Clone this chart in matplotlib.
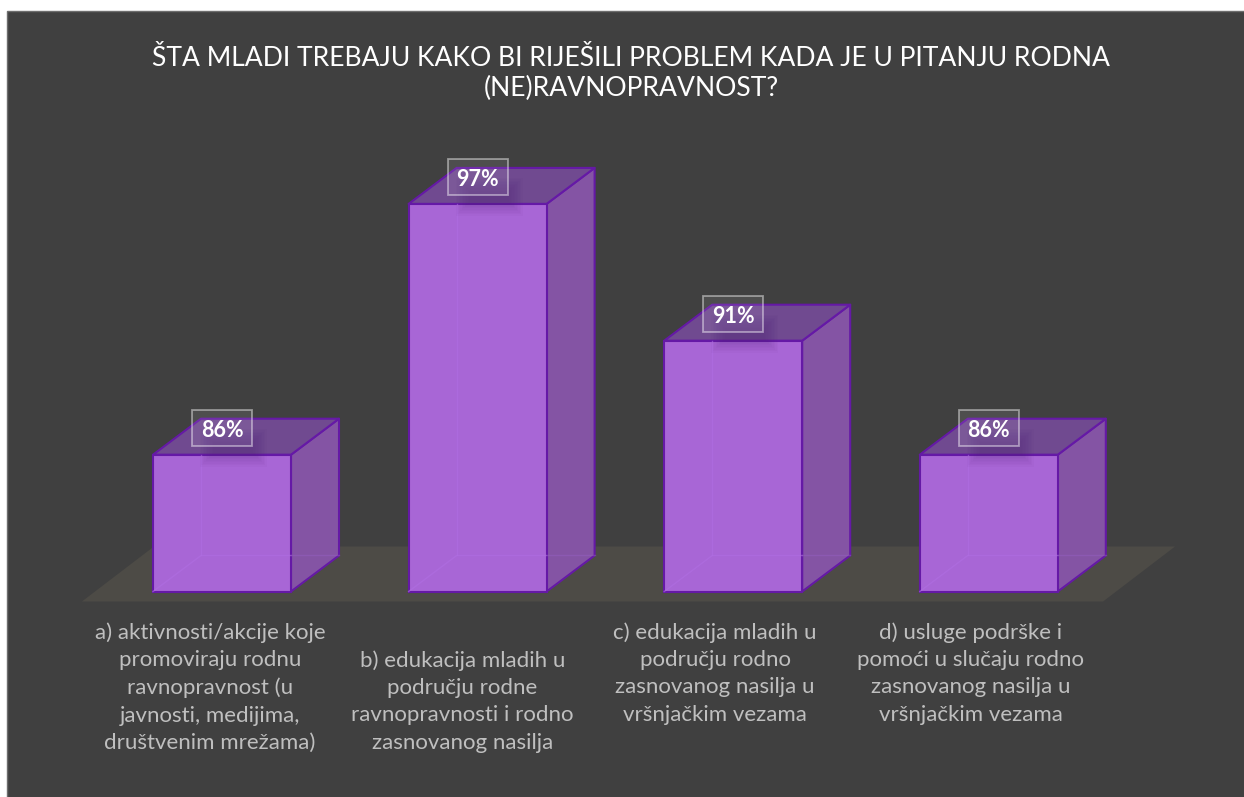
import matplotlib
matplotlib.use("Agg")
import matplotlib.pyplot as plt
from matplotlib.patches import Polygon, Rectangle

plt.rcParams['font.family'] = ['Lato', 'DejaVu Sans']

title = "ŠTA MLADI TREBAJU KAKO BI RIJEŠILI PROBLEM KADA JE U PITANJU RODNA\n(NE)RAVNOPRAVNOST?"
categories = [
    "a) aktivnosti/akcije koje\npromoviraju rodnu\nravnopravnost (u\njavnosti, medijima,\ndruštvenim mrežama)",
    "b) edukacija mladih u\npodručju rodne\nravnopravnosti i rodno\nzasnovanog nasilja",
    "c) edukacija mladih u\npodručju rodno\nzasnovanog nasilja u\nvršnjačkim vezama",
    "d) usluge podrške i\npomoći u slučaju rodno\nzasnovanog nasilja u\nvršnjačkim vezama",
]
values = [86, 97, 91, 86]

W, H = 1244, 797
BASE = 80           # value axis starts here
PX_X = 255.6        # pixels per category
PX_Y = 22.8         # pixels per percent
X0, Y0 = 222, 591.5 # pixel position of first category at the base
BAR_W = 138 / PX_X
DX = 48 / PX_X      # 3d depth
DY = 36 / PX_Y

BG = '#404040'
EDGE = '#6519a6'
FRONT = '#a866d6'
SIDE = '#8454a4'
TOP = '#704a90'
FLOOR = '#4d4b46'

fig = plt.figure(figsize=(W / 100, H / 100), dpi=100, facecolor='white')

# slide background, there is a white strip on the left and on top
bg = fig.add_axes([0, 0, 1, 1])
bg.set_xlim(0, W)
bg.set_ylim(H, 0)
bg.axis('off')
bg.add_patch(Rectangle((6.5, 10.5), W, H, fc=BG, ec='#6e6e6e', lw=1))

ax = fig.add_axes([0, 0, 1, 1])
ax.patch.set_alpha(0)
ax.set_xlim(-X0 / PX_X, (W - X0) / PX_X)
ax.set_ylim(BASE - (H - Y0) / PX_Y, BASE + Y0 / PX_Y)
ax.axis('off')

# floor
n = len(values)
fl_left = -0.548
fl_right = n - 0.553
fl_lo = BASE - 10 / PX_Y
fl_dx = 72 / PX_X
fl_dy = 55 / PX_Y
ax.add_patch(Polygon([(fl_left, fl_lo), (fl_right, fl_lo),
                      (fl_right + fl_dx, fl_lo + fl_dy), (fl_left + fl_dx, fl_lo + fl_dy)],
                     fc=FLOOR, ec='none'))

for i, v in enumerate(values):
    l = i - BAR_W / 2
    r = i + BAR_W / 2
    ax.add_patch(Polygon([(r, BASE), (r + DX, BASE + DY), (r + DX, v + DY), (r, v)],
                         fc=SIDE, ec=EDGE, lw=1.5, joinstyle='round', zorder=2))
    ax.add_patch(Polygon([(l, v), (r, v), (r + DX, v + DY), (l + DX, v + DY)],
                         fc=TOP, ec=EDGE, lw=1.5, joinstyle='round', zorder=2))
    ax.bar(i, v - BASE, bottom=BASE, width=BAR_W, color=FRONT, edgecolor=EDGE, linewidth=1.5, zorder=3)
    # faint inner edges of the box
    ax.plot([l + DX, l + DX], [BASE + DY, v], color='#b06ee2', lw=1, alpha=0.6, zorder=4)
    ax.plot([l, l + DX, r], [BASE, BASE + DY, BASE + DY], color='#b06ee2', lw=1, alpha=0.6, zorder=4)
    ax.plot([r, r + DX], [BASE + DY, BASE + DY], color='#9a62c8', lw=1, alpha=0.4, zorder=4)
    # soft shadow under the label
    for k in range(10):
        ax.add_patch(Rectangle((i + (-22 + k * 1.5) / PX_X, v + (-12 + k * 1.5) / PX_Y),
                               (67 - k * 3) / PX_X, (38 - k * 3) / PX_Y,
                               fc='#4a2070', ec='none', alpha=0.03, zorder=4))
    ax.text(i, v + 1.05, f"{v}%", ha='center', va='center', color='white',
            fontsize=15.5, fontweight='bold', zorder=6)
    ax.add_patch(Rectangle((i - 30 / PX_X, v + 8.5 / PX_Y), 60 / PX_X, 36 / PX_Y,
                           fc=(1, 1, 1, 0.08), ec=(1, 1, 1, 0.45), lw=1.3, zorder=5))

# category labels
label_x = [-12, -15, -18, -18]
label_top = [622, 650, 622, 622]
for i, (c, dx, top) in enumerate(zip(categories, label_x, label_top)):
    ax.text(i + dx / PX_X, BASE + (Y0 - top) / PX_Y, c, ha='center', va='top', color='#bfbfbf',
            fontsize=16, linespacing=1.46)

fig.text(631 / W, 1 - 46.5 / H, title, ha='center', va='top', color='white', fontsize=19.1, linespacing=1.2)

fig.savefig('out.png', dpi=100, facecolor='white')
